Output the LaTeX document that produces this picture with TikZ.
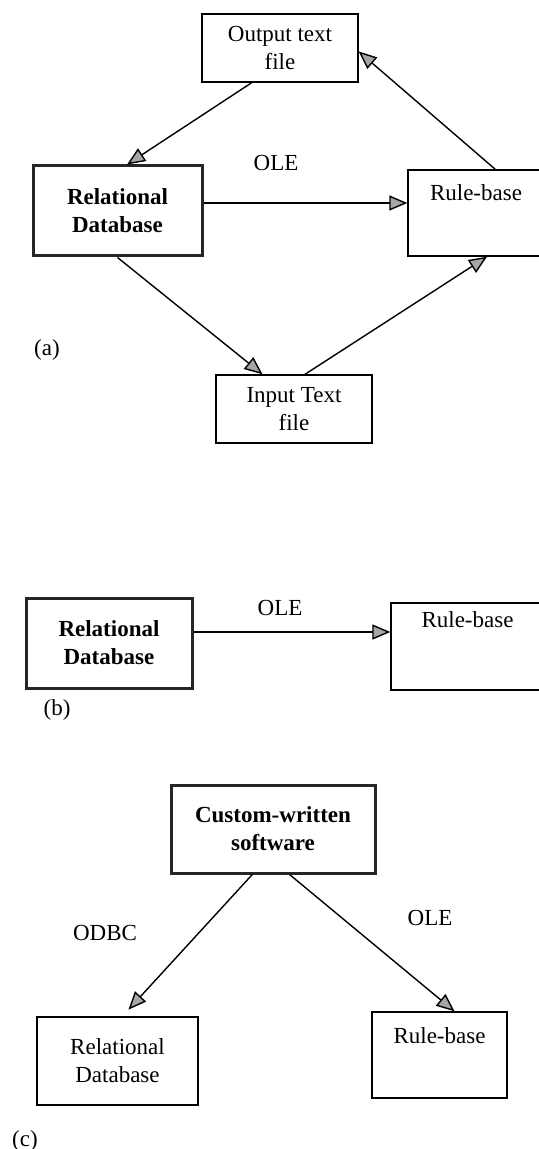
\documentclass[tikz,border=0pt]{standalone}
\usepackage{fontspec}
\setmainfont{Liberation Serif}
\usetikzlibrary{arrows.meta,calc}
\begin{document}
\begin{tikzpicture}[x=0.5pt,y=-0.5pt,
	txt/.style={font=\fontsize{11.5}{14}\selectfont},
	box/.style={draw,line width=0.7pt,align=center,inner sep=0pt,txt},
	thickbox/.style={box,line width=1.5pt,draw=black!85,font=\fontsize{11.5}{14}\selectfont\bfseries},
	toplabel/.style={label={[txt,anchor=north,inner sep=0pt,yshift=#1]north:Rule-base}},
	arr/.style={-{Triangle[length=9pt,width=7.5pt,fill=gray!70]},line width=0.7pt}]
	\useasboundingbox (0,0) rectangle (539,1149);
	% (a)
	\node[box,minimum width=78pt,minimum height=34pt] (out) at (280,48) {Output text\\file};
	\node[thickbox,minimum width=84.5pt,minimum height=45pt] (rdbA) at (117.5,211) {Relational\\Database};
	\node[box,minimum width=68pt,minimum height=43pt,toplabel=-7.5pt] (rbA) at (476,213) {};
	\node[box,minimum width=78pt,minimum height=34pt] (inp) at (294,409) {Input Text\\file};
	\node[txt] (oleA) at (276,163) {OLE};
	\node[txt] (capA) at (47,350) {(a)};
	\draw[arr] ($(out.south west)!0.32!(out.south east)$) -- ($(rdbA.north west)!0.556!(rdbA.north east)$);
	\draw[arr] ([yshift=4pt]rdbA.east) -- ([yshift=4pt]rdbA.east -| rbA.west);
	\draw[arr] ($(rbA.north west)!0.64!(rbA.north east)$) -- ($(out.north east)!0.55!(out.south east)$);
	\draw[arr] (rdbA.south) -- ($(inp.north west)!0.30!(inp.north east)$);
	\draw[arr] ($(inp.north west)!0.57!(inp.north east)$) -- ($(rbA.south west)!0.58!(rbA.south east)$);
	% (b)
	\node[thickbox,minimum width=83pt,minimum height=45pt] (rdbB) at (109,643) {Relational\\Database};
	\node[box,minimum width=76.5pt,minimum height=43.5pt,toplabel=-4.5pt] (rbB) at (467.5,646.5) {};
	\node[txt] (oleB) at (280,608) {OLE};
	\node[txt] (capB) at (57,710) {(b)};
	\draw[arr] ([yshift=5.5pt]rdbB.east) -- ([yshift=5.5pt]rdbB.east -| rbB.west);
	% (c)
	\node[thickbox,minimum width=102pt,minimum height=44pt] (cws) at (273,829) {Custom-written\\software};
	\node[box,minimum width=80.5pt,minimum height=44pt] (rdbC) at (117.5,1061) {Relational\\Database};
	\node[box,minimum width=67.5pt,minimum height=43pt,toplabel=-8pt] (rbC) at (439.5,1055) {};
	\node[txt] (odbc) at (105,933) {ODBC};
	\node[txt] (oleC) at (430,918) {OLE};
	\node[txt] (capC) at (25,1141) {(c)};
	\draw[arr,shorten >=4.5pt] ($(cws.south west)!0.40!(cws.south east)$) -- ($(rdbC.north west)!0.53!(rdbC.north east)$);
	\draw[arr] ($(cws.south west)!0.58!(cws.south east)$) -- ($(rbC.north west)!0.61!(rbC.north east)$);
\end{tikzpicture}
\end{document}
